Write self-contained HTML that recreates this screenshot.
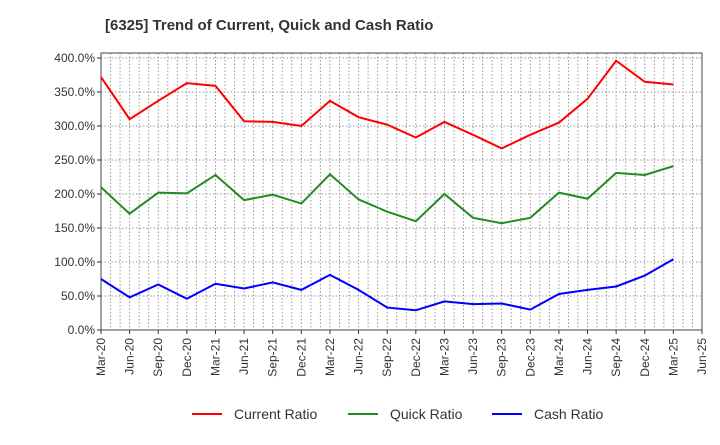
<!DOCTYPE html>
<html><head><meta charset="utf-8"><style>
body{margin:0;background:#fff;font-family:"Liberation Sans",Arial,sans-serif;}
svg text{font-family:"Liberation Sans",Arial,sans-serif;}
</style></head><body>
<svg id="chart" width="720" height="440" xmlns="http://www.w3.org/2000/svg">
<text x="105" y="30" font-size="15" font-weight="bold" fill="#333">[6325]  Trend of Current, Quick and Cash Ratio</text>
<g id="grid"></g>
<g id="axes"></g>
<g id="series"></g>
<g id="legend"></g>
</svg>
<script>
const xLabels=["Mar-20","Jun-20","Sep-20","Dec-20","Mar-21","Jun-21","Sep-21","Dec-21","Mar-22","Jun-22","Sep-22","Dec-22","Mar-23","Jun-23","Sep-23","Dec-23","Mar-24","Jun-24","Sep-24","Dec-24","Mar-25","Jun-25"];
const yTicks=[0,50,100,150,200,250,300,350,400];
const currentRatio=[372,310,337,363,359,307,306,300,337,313,302,283,306,287,267,287,305,340,396,365,361];
const quickRatio=[210,171,202,201,228,191,199,186,229,192,174,160,200,165,157,165,202,193,231,228,241];
const cashRatio=[75,48,67,46,68,61,70,59,81,59,33,29,42,38,39,30,53,59,64,80,104];
const L=101,R=702,T=53,B=330;
const NS="http://www.w3.org/2000/svg";
const xq=i=>L+(R-L)*i/21;
const y=v=>B-v*0.68;
function mk(p,tag,a){const e=document.createElementNS(NS,tag);for(const k in a)e.setAttribute(k,a[k]);p.appendChild(e);return e;}
const grid=document.getElementById('grid'),axes=document.getElementById('axes'),ser=document.getElementById('series'),leg=document.getElementById('legend');
for(let m=1;m<63;m++){const x=L+(R-L)*m/63;
const l=mk(grid,'line',{x1:x,x2:x,y1:T,y2:B,stroke:'#999','stroke-dasharray':'1.5,2','stroke-width':1});

}
yTicks.forEach(v=>{const yy=y(v);
const l=mk(grid,'line',{x1:L,x2:R,y1:yy,y2:yy,stroke:'#999','stroke-dasharray':'1.5,2','stroke-width':1});


mk(axes,'line',{x1:L-4,x2:L,y1:yy,y2:yy,stroke:'#333'});
const t=mk(axes,'text',{x:L-6,y:yy+4,'text-anchor':'end','font-size':12,fill:'#333'});t.textContent=v.toFixed(1)+'%';

});
const fr=mk(axes,'rect',{x:L,y:T,width:R-L,height:B-T,fill:'none',stroke:'#444','stroke-width':1});


xLabels.forEach((s,i)=>{const x=xq(i);
mk(axes,'line',{x1:x,x2:x,y1:B,y2:B+4,stroke:'#333'});
const t=mk(axes,'text',{x:x+4,y:B+8,'text-anchor':'end','font-size':12,fill:'#333',transform:`rotate(-90 ${x+4} ${B+8})`});t.textContent=s;

});
[[currentRatio,'#ff0000','current-ratio-line'],[quickRatio,'#228b22','quick-ratio-line'],[cashRatio,'#0000ff','cash-ratio-line']].forEach(([d,c,n])=>{
const p=mk(ser,'polyline',{points:d.map((v,i)=>xq(i)+','+y(v)).join(' '),fill:'none',stroke:c,'stroke-width':2});

});
[['Current Ratio','#ff0000',192],['Quick Ratio','#228b22',348],['Cash Ratio','#0000ff',492]].forEach(([s,c,x])=>{
const g=mk(leg,'g',{});


mk(g,'line',{x1:x,x2:x+30,y1:414,y2:414,stroke:c,'stroke-width':2});
const t=mk(g,'text',{x:x+42,y:419,'font-size':14,fill:'#333'});t.textContent=s;});
</script>
</body></html>
